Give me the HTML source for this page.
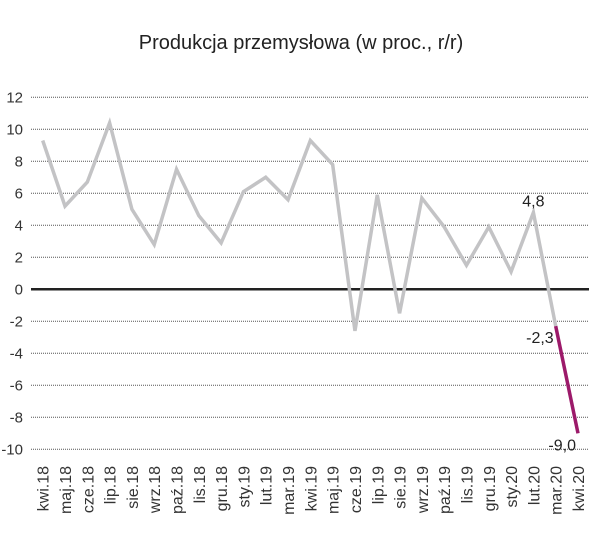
<!DOCTYPE html>
<html><head><meta charset="utf-8"><style>
body{margin:0;background:#fff;}
svg{display:block;font-family:"Liberation Sans",sans-serif;}
</style></head><body>
<svg id="chart" width="614" height="543" viewBox="0 0 614 543">
<text x="301" y="49" text-anchor="middle" font-size="20" fill="#222">Produkcja przemysłowa (w proc., r/r)</text>
<g id="grid"></g><g id="ylabels"></g><g id="xlabels"></g><g id="series"></g><g id="annot"></g>
</svg>
<script>
const categories=["kwi.18","maj.18","cze.18","lip.18","sie.18","wrz.18","paź.18","lis.18","gru.18","sty.19","lut.19","mar.19","kwi.19","maj.19","cze.19","lip.19","sie.19","wrz.19","paź.19","lis.19","gru.19","sty.20","lut.20","mar.20","kwi.20"];
const values=[9.3,5.2,6.7,10.4,5.0,2.8,7.5,4.6,2.9,6.1,7.0,5.6,9.3,7.8,-2.6,5.9,-1.5,5.7,3.9,1.5,3.9,1.1,4.8,-2.3,-9.0];
const yTicks=[12,10,8,6,4,2,0,-2,-4,-6,-8,-10];
const annotations=[{i:22,label:"4,8"},{i:23,label:"-2,3"},{i:24,label:"-9,0"}];
const NS="http://www.w3.org/2000/svg";
const y=v=>289.3-v*16;
const x=i=>42.7+i*(578-42.7)/(categories.length-1);
function mk(t,a,p){const e=document.createElementNS(NS,t);for(const k in a)e.setAttribute(k,a[k]);p.appendChild(e);return e;}
const grid=document.getElementById('grid'),yl=document.getElementById('ylabels'),xl=document.getElementById('xlabels'),ser=document.getElementById('series'),an=document.getElementById('annot');
yTicks.forEach(t=>{
 const l=mk('line',{x1:31,x2:589,y1:y(t),y2:y(t),stroke:t===0?'#222':'#555','stroke-width':t===0?2.5:1,'stroke-dasharray':t===0?'':'1,1'},grid);
 
 
 const tx=mk('text',{x:23,y:y(t)+5,'text-anchor':'end','font-size':15,fill:'#333'},yl);
 tx.textContent=String(t);
 
 
});
categories.forEach((c,i)=>{
 const tx=mk('text',{transform:`translate(${x(i)+6},466) rotate(-90)`,'text-anchor':'end','font-size':16,fill:'#333'},xl);
 tx.textContent=c;
 
 
});
const n=values.length;
const gpts=values.slice(0,n-1).map((v,i)=>x(i)+','+y(v)).join(' ');
const g=mk('polyline',{points:gpts,fill:'none',stroke:'#c3c3c5','stroke-width':3.5,'stroke-linejoin':'miter'},ser);


const p=mk('polyline',{points:x(n-2)+','+y(values[n-2])+' '+x(n-1)+','+y(values[n-1]),fill:'none',stroke:'#9c1a6a','stroke-width':3.5},ser);


annotations.forEach(a=>{
 let ax=x(a.i),ay=y(values[a.i]);
 let tx;
 if(a.i===22) tx=mk('text',{x:ax,y:ay-6,'text-anchor':'middle','font-size':16,fill:'#222'},an);
 else tx=mk('text',{x:ax-2,y:ay+17,'text-anchor':'end','font-size':16,fill:'#222'},an);
 tx.textContent=a.label;
 
 
});
</script>
</body></html>
